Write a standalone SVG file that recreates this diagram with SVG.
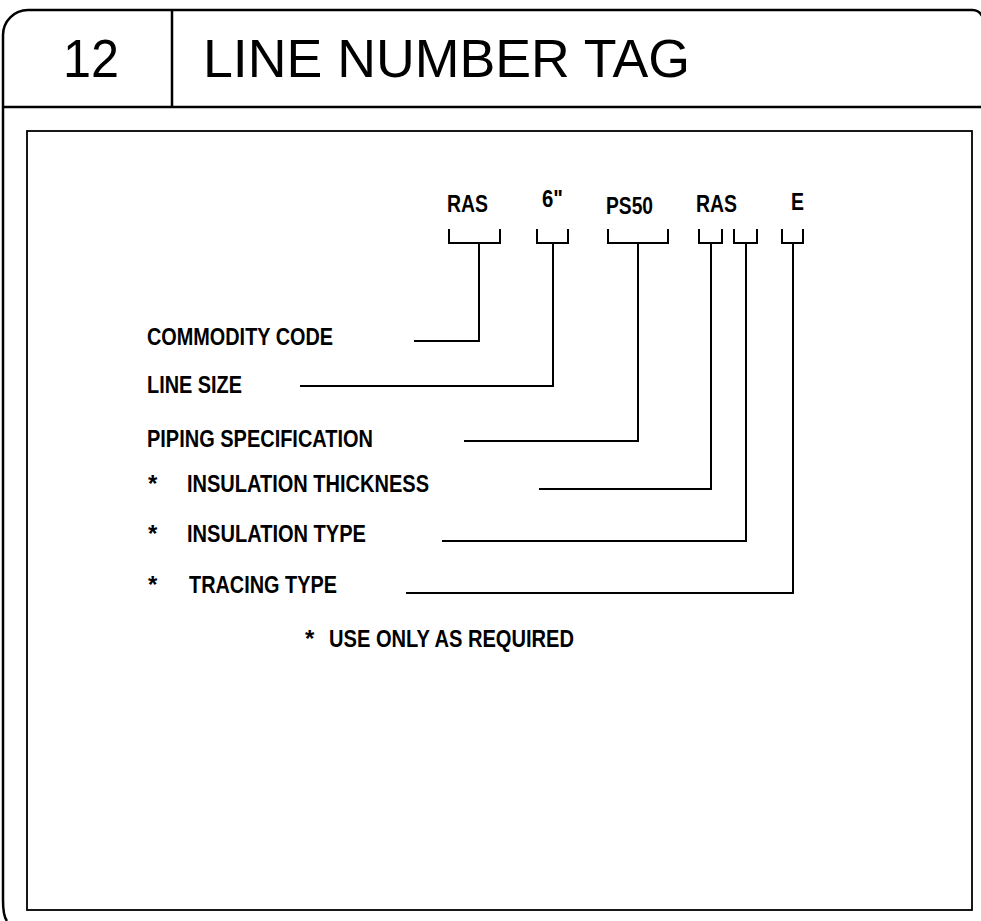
<svg xmlns="http://www.w3.org/2000/svg" width="981" height="921" viewBox="0 0 981 921">
<style>
.frame{fill:none;stroke:#000;stroke-width:2.5}
.box{fill:none;stroke:#000;stroke-width:1.8}
.con{fill:none;stroke:#000;stroke-width:2}
.hd{font-family:"Liberation Sans",Arial,sans-serif;font-size:53px;fill:#000}
.lb{font-family:"Liberation Sans",Arial,sans-serif;font-size:24px;font-weight:bold;fill:#000}
.cd{font-family:"Liberation Sans",Arial,sans-serif;font-size:23px;font-weight:bold;fill:#000}
</style>
<rect width="981" height="921" fill="#fff"/>
<g id="frame">
<path class="frame" d="M7 921 Q3 916 3 900 L3 35 A25 25 0 0 1 28 10 L972 10 Q979 10 982 16"/>
<line class="frame" x1="3" y1="107" x2="981" y2="107"/>
<line class="frame" x1="172" y1="10" x2="172" y2="107"/>
<text class="hd" x="63" y="77" textLength="56" lengthAdjust="spacingAndGlyphs">12</text>
<text class="hd" x="203" y="77" textLength="487" lengthAdjust="spacingAndGlyphs">LINE NUMBER TAG</text>
<rect class="box" x="27" y="131" width="945" height="779"/>
</g>
<g id="codes">
<text class="cd" x="447" y="212" textLength="41" lengthAdjust="spacingAndGlyphs">RAS</text>
<text class="cd" x="542" y="207" textLength="21" lengthAdjust="spacingAndGlyphs">6"</text>
<text class="cd" x="606" y="214" textLength="47" lengthAdjust="spacingAndGlyphs">PS50</text>
<text class="cd" x="696" y="212" textLength="41" lengthAdjust="spacingAndGlyphs">RAS</text>
<text class="cd" x="791" y="210" textLength="13" lengthAdjust="spacingAndGlyphs">E</text>
</g>
<g id="labels">
<text class="lb" x="147" y="345" textLength="186" lengthAdjust="spacingAndGlyphs">COMMODITY CODE</text>
<text class="lb" x="147" y="393" textLength="95" lengthAdjust="spacingAndGlyphs">LINE SIZE</text>
<text class="lb" x="147" y="447" textLength="226" lengthAdjust="spacingAndGlyphs">PIPING SPECIFICATION</text>
<text class="lb" x="148" y="492">*</text>
<text class="lb" x="187" y="492" textLength="242" lengthAdjust="spacingAndGlyphs">INSULATION THICKNESS</text>
<text class="lb" x="148" y="542">*</text>
<text class="lb" x="187" y="542" textLength="179" lengthAdjust="spacingAndGlyphs">INSULATION TYPE</text>
<text class="lb" x="148" y="593">*</text>
<text class="lb" x="189" y="593" textLength="148" lengthAdjust="spacingAndGlyphs">TRACING TYPE</text>
<text class="lb" x="305" y="647">*</text>
<text class="lb" x="329" y="647" textLength="245" lengthAdjust="spacingAndGlyphs">USE ONLY AS REQUIRED</text>
</g>
<g id="connectors">
<path class="con" d="M449 229 V243 H500 V229 M479 243 V341 H414"/>
<path class="con" d="M537 229 V243 H568 V229 M553 243 V386 H300"/>
<path class="con" d="M608 229 V243 H668 V229 M638 243 V441 H464"/>
<path class="con" d="M699 229 V243 H722 V229 M711 243 V489 H539"/>
<path class="con" d="M734 229 V243 H757 V229 M746 243 V541 H442"/>
<path class="con" d="M782 229 V243 H803 V229 M793 243 V593 H406"/>
</g>
</svg>
